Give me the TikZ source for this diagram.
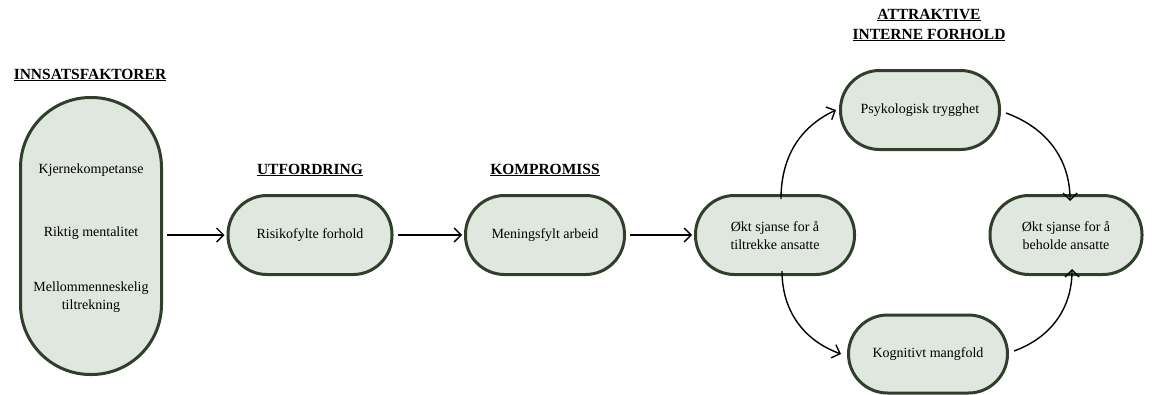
\documentclass[tikz,border=0pt]{standalone}
\usepackage{fontspec}
\setmainfont{Liberation Serif}
\usetikzlibrary{arrows.meta}
\definecolor{bord}{HTML}{2F3F2B}
\definecolor{fillc}{HTML}{E0E7DF}
\begin{document}
\begin{tikzpicture}[x=1pt,y=-1pt,
  box/.style={draw=bord,line width=3pt,fill=fillc,rounded corners=39pt,minimum width=159pt,minimum height=79pt,inner sep=0pt,align=center,font=\fontsize{14}{18}\selectfont},
  title/.style={font=\fontsize{15.5}{20}\selectfont\bfseries,align=center},
  txt/.style={font=\fontsize{14}{18}\selectfont,align=center},
  conn/.style={line width=1.4pt,-{Straight Barb[length=7pt,width=14pt,line width=1.4pt]}}]
\useasboundingbox (0,0) rectangle (1158,394);
% left big node
\node[draw=bord,line width=3pt,fill=fillc,rounded corners=70pt,minimum width=141pt,minimum height=277pt,inner sep=0pt] (inn) at (91,236) {};
\node[txt] (t1) at (91,170) {Kjernekompetanse};
\node[txt] (t2) at (91,233) {Riktig mentalitet};
\node[txt] (t3) at (91,297) {Mellommenneskelig\\tiltrekning};
\node[title] (h1) at (90,75) {\underline{INNSATSFAKTORER}};
% chain
\node[box,minimum width=164pt] (risk) at (310,235) {Risikofylte forhold};
\node[title] (h2) at (310,170) {\underline{UTFORDRING}};
\node[box] (men) at (545,235) {Meningsfylt arbeid};
\node[title] (h3) at (545,170) {\underline{KOMPROMISS}};
\node[box] (tilt) at (775,235) {Økt sjanse for å\\tiltrekke ansatte};
\node[box] (psyk) at (920,110) {Psykologisk trygghet};
\node[box,minimum height=78pt] (kogn) at (928,354) {Kognitivt mangfold};
\node[box,minimum width=152pt] (beh) at (1066,235) {Økt sjanse for å\\beholde ansatte};
\node[title,font=\fontsize{15.5}{20}\selectfont\bfseries] (h4) at (929,25) {\underline{ATTRAKTIVE}\\\underline{INTERNE FORHOLD}};
% connectors
\draw[conn,shorten <=4pt,shorten >=2pt] (inn.east |- risk.west) -- (risk.west);
\draw[conn,shorten <=4pt,shorten >=2pt] (risk.east) -- (men.west);
\draw[conn,shorten <=4pt,shorten >=2pt] (men.east) -- (tilt.west);
\draw[conn] ([xshift=6pt,yshift=-5pt]tilt.north) to[out=90,in=205] ([xshift=-3pt]psyk.west);
\draw[conn] ([xshift=5pt,yshift=-3pt]psyk.east) to[out=-20,in=90] ([xshift=4pt,yshift=-7pt]beh.north);
\draw[conn] ([xshift=7pt,yshift=5pt]tilt.south) to[out=-90,in=160] ([xshift=-6pt]kogn.west);
\draw[conn] ([xshift=5pt,yshift=3pt]kogn.east) to[out=20,in=-90] ([xshift=6pt,yshift=7pt]beh.south);
\end{tikzpicture}
\end{document}
